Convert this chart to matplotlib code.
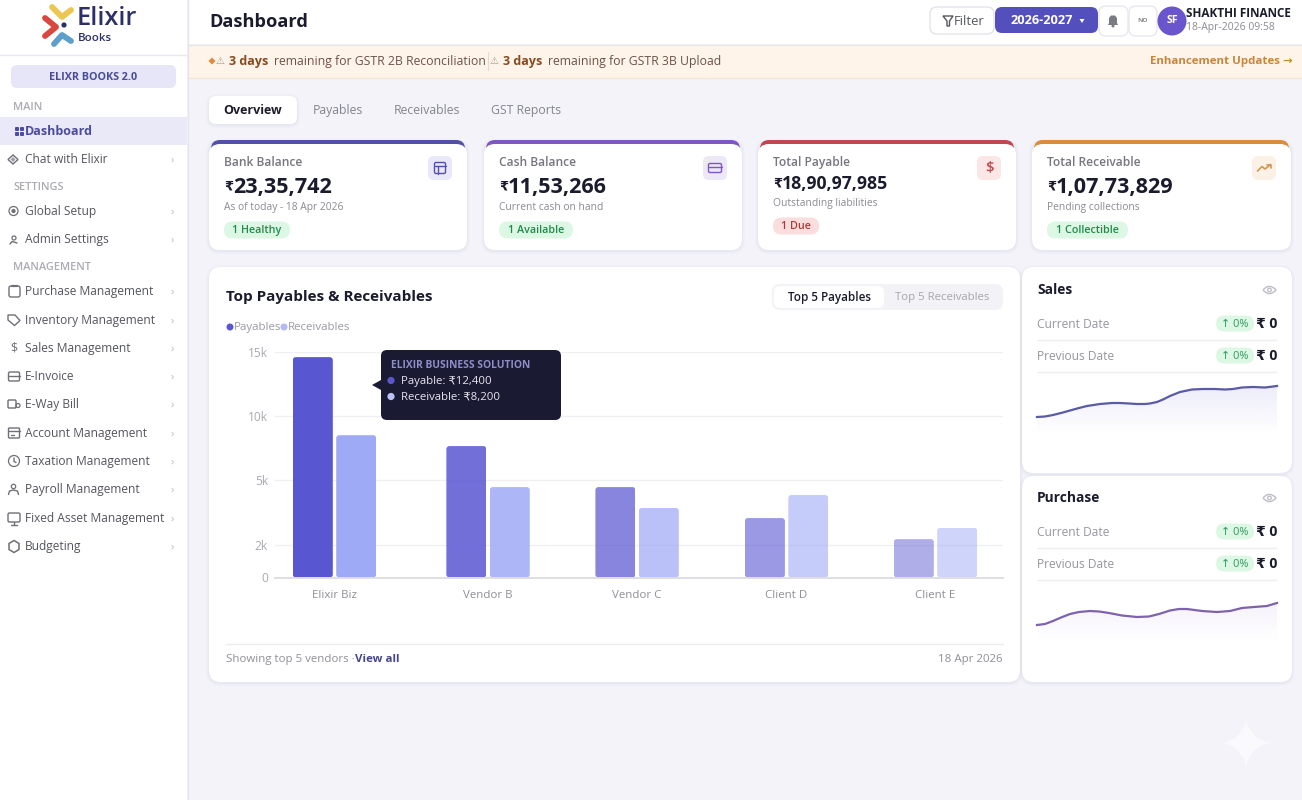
import numpy as np
import matplotlib
matplotlib.use("Agg")
import matplotlib.pyplot as plt
from matplotlib.patches import FancyBboxPatch, Circle, Polygon, PathPatch, Rectangle
from matplotlib.path import Path
from matplotlib.transforms import IdentityTransform

plt.rcParams['font.family'] = ['Open Sans', 'DejaVu Sans']

# chart data
categories = ["Elixir Biz", "Vendor B", "Vendor C", "Client D", "Client E"]
payables = [14600, 7650, 4670, 3230, 2250]
receivables = [8500, 4670, 3700, 4300, 2770]
y_ticks = [0, 2000, 5000, 10000, 15000]
y_tick_labels = ["0", "2k", "5k", "10k", "15k"]
y_tick_pos = [0, 33, 97.5, 161.5, 225.5]  # uneven axis spacing in the original
slots = [0, 1.022, 2.014, 3.009, 4]  # groups are not quite evenly spread either

sales_x = [0, 8, 16, 24, 33, 42, 50, 63, 75, 83, 92, 100, 108, 113, 120, 126, 133, 143, 155, 166, 178, 188, 196, 205, 216, 228, 240]
sales_y = [23, 23.5, 25, 27, 29.5, 32, 34, 36, 37, 37, 36.5, 36, 36, 36.5, 38, 40.5, 44, 48, 50.5, 51, 51, 50.5, 51, 52.5, 53, 52.5, 54]
purchase_x = [0, 8, 16, 24, 33, 42, 53, 62, 72, 85, 100, 112, 122, 133, 142, 150, 165, 180, 193, 205, 217, 230, 240]
purchase_y = [23, 24, 27, 30.5, 34, 36, 37, 36.5, 35, 32.5, 31, 31.5, 34, 37.5, 39, 39, 37, 36, 37, 40, 41, 42, 45]

kpi_labels = ["Bank Balance", "Cash Balance", "Total Payable", "Total Receivable"]
kpi_values = ["23,35,742", "11,53,266", "18,90,97,985", "1,07,73,829"]
kpi_subs = ["As of today - 18 Apr 2026", "Current cash on hand", "Outstanding liabilities", "Pending collections"]
kpi_pills = ["1 Healthy", "1 Available", "1 Due", "1 Collectible"]

nav_main = ["Dashboard", "Chat with Elixir"]
nav_settings = ["Global Setup", "Admin Settings"]
nav_manage = ["Purchase Management", "Inventory Management", "Sales Management", "E-Invoice", "E-Way Bill",
              "Account Management", "Taxation Management", "Payroll Management", "Fixed Asset Management", "Budgeting"]

W, H = 1302, 800
fig = plt.figure(figsize=(W / 100, H / 100), dpi=100, facecolor="#F3F3F9")
bg = fig.add_axes([0, 0, 1, 1])
bg.set_xlim(0, W)
bg.set_ylim(H, 0)
bg.axis("off")


def box(x0, y0, x1, y1, r=0, fc="white", ec="none", lw=1, z=1, alpha=None):
    p = FancyBboxPatch((x0 + r, y0 + r), x1 - x0 - 2 * r, y1 - y0 - 2 * r,
                       boxstyle="round,pad=%g,rounding_size=%g" % (r, r),
                       fc=fc, ec=ec, lw=lw, zorder=z, alpha=alpha, mutation_aspect=1)
    bg.add_patch(p)
    return p


def txt(x, y, s, px=12, c="#333333", w="normal", ha="left", z=6):
    return bg.text(x, y + 1.8, s, fontsize=px * 0.72, color=c, fontweight=w, ha=ha, va="center", zorder=z)


def shadow(x0, y0, x1, y1, r):
    for d, a in [(3, 0.012), (2, 0.016), (1, 0.022)]:
        box(x0 - d, y0 - d + 1, x1 + d, y1 + d + 1, r + d, fc="#3C3C78", z=1, alpha=a)


def line(xs, ys, c="#777777", lw=1.0, z=5):
    bg.plot(xs, ys, color=c, lw=lw, zorder=z, solid_capstyle="round", solid_joinstyle="round")


def ring(x, y, r, c="#777777", lw=0.9, fc="none", z=5):
    bg.add_patch(Circle((x, y), r, fc=fc, ec=c, lw=lw, zorder=z))


# page frame
bg.add_patch(Rectangle((188, 0), W, 44, fc="white", ec="none", zorder=1))
bg.add_patch(Rectangle((188, 45), W, 33, fc="#FFF4E9", ec="none", zorder=1))
line([188, W], [44.5, 44.5], "#E9E6E6", 1, 2)
line([188, W], [78, 78], "#F5E6D6", 1, 2)
bg.add_patch(Rectangle((0, 0), 187, H, fc="white", ec="none", zorder=2))
line([187.5, 187.5], [0, H], "#E4E4EC", 1, 3)
line([0, 187], [55, 55], "#E8E8EE", 1, 3)

# logo
line([52, 62, 71], [7, 17, 10], "#EBC653", 4.2)
line([45, 56, 45], [18, 27, 36], "#D9483F", 4.2)
line([54, 62, 71], [44, 35, 41], "#5C9FCB", 4.2)
bg.add_patch(Circle((64, 25), 2.6, fc="#2A2F66", ec="none", zorder=5))
txt(77, 17, "Elixir", 25.5, "#2B3069", "semibold")
txt(78, 37, "Books", 11.5, "#2B3069", "semibold")

# sidebar
box(11, 65, 176, 88, 6, fc="#E6E6F8", z=3)
txt(93, 75.5, "ELIXR BOOKS 2.0", 10.8, "#4B4B96", "bold", "center")
for y, s in [(107, "MAIN"), (187, "SETTINGS"), (267, "MANAGEMENT")]:
    txt(13, y - 1, s, 11, "#ABABB3", "semibold")
bg.add_patch(Rectangle((0, 117), 187, 28, fc="#E9E9F8", ec="none", zorder=3))
txt(25, 130, nav_main[0], 12.5, "#4B4BA0", "bold")
for px_, py_ in [(17, 129), (22, 129), (17, 134), (22, 134)]:
    box(px_ - 2, py_ - 2, px_ + 2, py_ + 2, 1, fc="#4B4BA0", z=5)

nav_y = [159, 211, 239, 291, 320, 348, 376, 404, 433, 461, 489, 518, 546]
nav_names = nav_main[1:] + nav_settings + nav_manage
icon_c = "#6F6F78"
for name, y in zip(nav_names, nav_y):
    txt(25, y - 1, name, 12, "#55555F")
    txt(172.5, y - 1, "›", 11, "#B9B9C0", ha="center")

# sidebar icons, rough line drawings
bg.add_patch(Polygon([(13, 155), (18, 159.5), (13, 164), (8, 159.5)], fc="none", ec=icon_c, lw=1, zorder=5))
bg.add_patch(Polygon([(13, 157), (15.5, 159.5), (13, 162), (10.5, 159.5)], fc="#A0A0A8", ec="none", zorder=5))
ring(13.5, 211, 1.5, icon_c, fc=icon_c)
ring(13.5, 211, 4.5, icon_c)
ring(14, 238, 2, icon_c)
line([10, 12, 17], [244, 241.5, 243], icon_c)
box(9, 286, 20, 297, 2, fc="none", ec=icon_c, z=5)
line([12, 17], [285.5, 285.5], icon_c, 1.6)
bg.add_patch(Polygon([(8, 315), (15, 315), (20, 320.5), (14.5, 325.5), (8, 320)], fc="none", ec=icon_c, lw=1, zorder=5))
txt(13.5, 346.5, "$", 12.5, icon_c, ha="center")
box(8.5, 372, 19.5, 381, 1.5, fc="none", ec=icon_c, z=5)
line([8.5, 19.5], [375.5, 375.5], icon_c)
box(8, 400, 16, 408, 1, fc="none", ec=icon_c, z=5)
ring(18, 405.5, 2, icon_c)
box(8.5, 428, 19.5, 438, 1, fc="none", ec=icon_c, z=5)
line([8.5, 19.5], [431, 431], icon_c)
line([11, 14], [434.5, 434.5], icon_c)
ring(14, 461, 5.5, icon_c)
line([14, 14, 16], [458, 461.5, 462.5], icon_c)
ring(13.5, 486.5, 2.2, icon_c)
line([8.5, 9.5, 13.5, 17.5, 18.5], [494.5, 491, 490, 491, 494.5], icon_c)
box(8, 513, 20, 522, 1.5, fc="none", ec=icon_c, z=5)
line([14, 14], [522, 524.5], icon_c)
line([11, 17], [524.5, 524.5], icon_c)
bg.add_patch(Polygon([(14, 540.5), (19, 543.5), (19, 549.5), (14, 552.5), (9, 549.5), (9, 543.5)], fc="none", ec=icon_c, lw=1.1, zorder=5))

# header
txt(209, 20, "Dashboard", 18.3, "#1B1B2E", "bold")
box(930, 7, 994, 34, 7, fc="white", ec="#E3E3EA")
txt(954, 19.5, "Filter", 13, "#555560")
bg.add_patch(Polygon([(943, 16), (953, 16), (949.5, 21), (949.5, 26), (947, 26), (947, 21)], fc="none", ec="#555560", lw=1, zorder=5))
box(995, 7, 1098, 33, 7, fc="#5350BE")
txt(1042, 19, "2026-2027", 12.8, "white", "bold", "center")
bg.add_patch(Polygon([(1079.5, 19), (1084.5, 19), (1082, 23)], fc="white", ec="none", zorder=6))
box(1099, 6, 1128, 36, 7, fc="white", ec="#E8E8EE")
bg.add_patch(Polygon([(1108, 25), (1109, 23), (1109, 18), (1111, 15.5), (1115, 15.5), (1117, 18), (1117, 23), (1118, 25)], fc="#7A7A82", ec="none", zorder=5))
bg.add_patch(Circle((1113, 26), 1.5, fc="#7A7A82", ec="none", zorder=5))
box(1129, 6, 1157, 36, 7, fc="white", ec="#E8E8EE")
txt(1143, 19, "NO", 6.5, "#8A8A92", "bold", "center")
bg.add_patch(Circle((1172, 21), 14.5, fc="#6A55CC", ec="none", zorder=3))
txt(1172, 19, "SF", 10.5, "white", "bold", "center")
txt(1186, 11.5, "SHAKTHI FINANCE", 11.7, "#1C1C2B", "bold")
txt(1186, 26, "18-Apr-2026 09:58", 10.4, "#8A8A92")

# alert banner
bg.add_patch(Polygon([(212, 57.5), (215.5, 61), (212, 64.5), (208.5, 61)], fc="#E08A3C", ec="none", zorder=5))
txt(215.5, 59.5, "⚠", 10, "#A89A8A")
txt(229, 59.5, "3 days", 12.5, "#8A4A20", "bold")
txt(274.5, 59.5, "remaining for GSTR 2B Reconciliation", 12.2, "#6B5346")
line([487.5, 487.5], [52, 70], "#EAD9C6", 0.8)
txt(489.5, 59.5, "⚠", 10, "#A89A8A")
txt(503, 59.5, "3 days", 12.5, "#8A4A20", "bold")
txt(548, 59.5, "remaining for GSTR 3B Upload", 12.2, "#6B5346")
txt(1293, 60, "Enhancement Updates →", 11.5, "#C8853A", "bold", "right")

# tabs
shadow(209, 96, 297, 124, 7)
box(209, 96, 297, 124, 7, fc="white", z=2)
txt(253, 108.5, "Overview", 12.5, "#1C1C2B", "bold", "center")
for x, s in [(338, "Payables"), (427, "Receivables"), (526, "GST Reports")]:
    txt(x, 108.5, s, 12.3, "#85858F", ha="center")

# kpi cards
card_x = [(209, 467), (484, 742), (758, 1016), (1032, 1291)]
accents = ["#5250A8", "#7E57C2", "#C0474F", "#D98C3A"]
icon_bg = ["#E8E8F8", "#EDE8F8", "#FCE6E6", "#FCF1E6"]
icon_fg = ["#5250A8", "#7E57C2", "#C0474F", "#D0984F"]
pill_bg = ["#DDF7E5", "#DDF7E5", "#FBDDDD", "#DDF7E5"]
pill_fg = ["#1F8A4C", "#1F8A4C", "#A83A3A", "#1F8A4C"]
pill_w = [66, 74, 46, 81]
for i, (x0, x1) in enumerate(card_x):
    shadow(x0, 141, x1, 250, 11)
    box(x0 + 2, 140, x1 - 2, 165, 9, fc=accents[i], z=2)
    box(x0, 144, x1, 250, 11, fc="white", z=3)
    small = i == 2
    tx = x0 + 15
    txt(tx, 161, kpi_labels[i], 12, "#76767F", "semibold")
    txt(tx, 185.5 - 3 * small, "₹", 13, "#1B1B2E", "bold")
    txt(tx + 9, 185.5 - 3 * small, kpi_values[i], 17.6 if small else 21.7, "#1B1B2E", "bold")
    txt(tx, 206 - 4 * small, kpi_subs[i], 10.3, "#8A8A92")
    py = 226 if small else 230
    box(tx, py - 8.5, tx + pill_w[i], py + 8.5, 8.5, fc=pill_bg[i], z=4)
    txt(tx + pill_w[i] / 2, py - 1.5, kpi_pills[i], 10.8, pill_fg[i], "semibold", "center")
    ix = x1 - 39 if i != 0 else 428
    box(ix, 156, ix + 24, 180, 6, fc=icon_bg[i], z=4)
    cx, cy = ix + 12, 168
    if i == 0:
        box(cx - 5.5, cy - 5.5, cx + 5.5, cy + 5.5, 1.5, fc="none", ec=icon_fg[i], z=5)
        line([cx - 5.5, cx + 5.5], [cy - 2.5, cy - 2.5], icon_fg[i])
        line([cx - 2, cx - 2], [cy - 2.5, cy + 5.5], icon_fg[i])
    elif i == 1:
        box(cx - 6.5, cy - 4.5, cx + 6.5, cy + 4.5, 1.5, fc="none", ec=icon_fg[i], z=5)
        line([cx - 6.5, cx + 6.5], [cy - 1.5, cy - 1.5], icon_fg[i])
    elif i == 2:
        txt(cx, cy - 1.5, "$", 15, icon_fg[i], "semibold", "center")
    else:
        line([cx - 6.5, cx - 2, cx + 1, cx + 6.5], [cy + 3, cy - 1.5, cy + 1, cy - 3.5], icon_fg[i], 1.2)
        line([cx + 2.5, cx + 6.5, cx + 6.5], [cy - 3.5, cy - 3.5, cy - 0.5], icon_fg[i], 1.2)

# main chart card
shadow(209, 267, 1020, 682, 12)
box(209, 267, 1020, 682, 12, fc="white", z=2)
txt(226, 295.5, "Top Payables & Receivables", 15.3, "#1B1B2E", "bold")
box(772, 284, 1003, 310, 8, fc="#F3F3F7", z=3)
box(774, 286, 884, 308, 6, fc="white", z=4)
txt(829, 295.5, "Top 5 Payables", 11.6, "#1B1B2E", "semibold", "center")
txt(942, 295.5, "Top 5 Receivables", 11.4, "#A5A5AE", ha="center")
bg.add_patch(Circle((230, 327), 3.5, fc="#5B57D1", ec="none", zorder=5))
txt(234, 325.5, "Payables", 11.5, "#9A9AA3")
bg.add_patch(Circle((284, 327), 3.5, fc="#B4BAF5", ec="none", zorder=5))
txt(288, 325.5, "Receivables", 11.5, "#9A9AA3")
line([226, 1003], [644, 644], "#ECECF1", 1, 4)
txt(226, 658, "Showing top 5 vendors ·", 11.5, "#8F8F98")
txt(355, 658, "View all", 11.5, "#47478C", "bold")
txt(1003, 658, "18 Apr 2026", 11.5, "#8F8F98", ha="right")

# bar chart axes
ax_l, ax_r, ax_t, ax_b = 275, 1003, 352, 577.5
ax = fig.add_axes([ax_l / W, 1 - ax_b / H, (ax_r - ax_l) / W, (ax_b - ax_t) / H], facecolor="none", zorder=3)
ax.set_yscale("function", functions=(lambda v: np.interp(v, y_ticks, y_tick_pos),
                                     lambda p: np.interp(p, y_tick_pos, y_ticks)))
ax.set_ylim(0, 15000)
ax.set_yticks(y_ticks, y_tick_labels)
ax.minorticks_off()
step = 150.25
ax.set_xlim((ax_l - 334.5) / step, (ax_r - 334.5) / step)
xpos = np.array(slots)
ax.set_xticks(xpos, categories)
ax.tick_params(axis="both", length=0, labelcolor="#A9A9B2", labelsize=12 * 0.72)
ax.tick_params(axis="y", pad=5)
ax.tick_params(axis="x", pad=9.2, labelcolor="#8E8E97", labelsize=11.5 * 0.72)
for s in ["top", "left", "right"]:
    ax.spines[s].set_visible(False)
ax.spines["bottom"].set_color("#DEDEE4")
ax.spines["bottom"].set_linewidth(1.4)
ax.grid(axis="y", color="#F0F0F4", lw=1)
ax.set_axisbelow(True)
alphas = [1, 0.85, 0.72, 0.6, 0.48]
bar_w = 40 / step
off = 21.7 / step
bars_p = ax.bar(xpos - off, payables, bar_w, color="#5956D2")
bars_r = ax.bar(xpos + off, receivables, bar_w, color="#9FAAF6")
for bars, fade in [(bars_p, alphas), (bars_r, [1, 0.85, 0.72, 0.6, 0.5])]:
    for b, a in zip(bars, fade):
        b.set_alpha(a)
        e = b.get_window_extent()
        clip = FancyBboxPatch((e.x0 + 3, e.y0 + 3), e.width - 6, e.height - 6,
                              boxstyle="round,pad=3,rounding_size=3", transform=IdentityTransform())
        b.set_clip_path(clip)

# tooltip goes over the chart axes, so it gets its own layer
tip = fig.add_axes([0, 0, 1, 1], facecolor="none", zorder=5)
tip.set_xlim(0, W)
tip.set_ylim(H, 0)
tip.axis("off")
tip.add_patch(FancyBboxPatch((387, 356), 168, 58, boxstyle="round,pad=6,rounding_size=6", fc="#1A1A33", ec="none"))
tip.add_patch(Polygon([(372, 385), (381, 380), (381, 390)], fc="#1A1A33", ec="none"))
tip.text(391, 365, "ELIXIR BUSINESS SOLUTION", fontsize=10.2 * 0.72, color="#8E8EC8", fontweight="bold", va="center")
tip.add_patch(Circle((391, 380.5), 3.6, fc="#5B57C8", ec="none"))
tip.add_patch(Circle((391, 396.5), 3.6, fc="#BCC2F8", ec="none"))
tip.text(401, 381.5, "Payable: ₹12,400", fontsize=11.4 * 0.72, color="#E6E6F0", va="center")
tip.text(401, 397.5, "Receivable: ₹8,200", fontsize=11.4 * 0.72, color="#E6E6F0", va="center")

# sales / purchase cards
side_cards = [("Sales", 267, 473, 0, sales_x, sales_y, "#5A5AA6", "#6A66D8"),
              ("Purchase", 476, 682, 208, purchase_x, purchase_y, "#7E62AE", "#9C7AD8")]
for title, y0, y1, dy, sx, sy, lc, fillc in side_cards:
    shadow(1022, y0, 1292, y1, 12)
    box(1022, y0, 1292, y1, 12, fc="white", z=2)
    txt(1037, 288.5 + dy, title, 13.8, "#1B1B2E", "bold")
    ey = 290 + dy
    bg.add_patch(PathPatch(Path([(1263, ey), (1269.5, ey - 7.5), (1276, ey), (1269.5, ey + 7.5), (1263, ey)],
                                [Path.MOVETO, Path.CURVE3, Path.CURVE3, Path.CURVE3, Path.CURVE3]),
                           fc="none", ec="#BDBDC5", lw=1, zorder=5))
    ring(1269.5, ey, 1.8, "#BDBDC5")
    for yy, lab in [(323.5, "Current Date"), (355.5, "Previous Date")]:
        txt(1037, yy + dy - 1, lab, 12, "#96969F")
        box(1216, yy + dy - 8, 1254, yy + dy + 8, 8, fc="#DDF7E5", z=4)
        txt(1235, yy + dy - 1, "↑ 0%", 11, "#2E9A5C", ha="center")
        txt(1277, yy + dy - 1, "₹ 0", 14, "#1B1B2E", "bold", "right")
        line([1037, 1277], [yy + dy + 16, yy + dy + 16], "#EEEEF2", 1, 4)
    sp = fig.add_axes([1037 / W, 1 - (440 + dy) / H, 240 / W, 68 / H], facecolor="none", zorder=4)
    sp.set_xlim(0, 240)
    sp.set_ylim(0, 68)
    sp.axis("off")
    rgb = matplotlib.colors.to_rgb(fillc)
    grad = np.zeros((64, 2, 4))
    grad[..., :3] = rgb
    grad[..., 3] = np.linspace(0.13, 0, 64)[:, None]
    im = sp.imshow(grad, extent=(0, 240, 6, 58), aspect="auto", origin="upper", zorder=1)
    area = sp.fill_between(sx, sy, 0, fc="none", ec="none")
    im.set_clip_path(area.get_paths()[0], transform=sp.transData)
    sp.set_xlim(0, 240)
    sp.set_ylim(0, 68)
    sp.plot(sx, sy, color=lc, lw=1.6, solid_joinstyle="round", zorder=2, clip_on=False)

# faint sparkle bottom right
sx0, sy0, sr = 1246, 743, 24
bg.add_patch(PathPatch(Path([(sx0, sy0 - sr), (sx0 + 4, sy0 - 4), (sx0 + sr, sy0), (sx0 + 4, sy0 + 4),
                             (sx0, sy0 + sr), (sx0 - 4, sy0 + 4), (sx0 - sr, sy0), (sx0 - 4, sy0 - 4), (sx0, sy0 - sr)],
                            [Path.MOVETO] + [Path.CURVE3] * 8),
                       fc="white", ec="none", alpha=0.6, zorder=1))

fig.savefig("out.png", dpi=100, facecolor=fig.get_facecolor())
